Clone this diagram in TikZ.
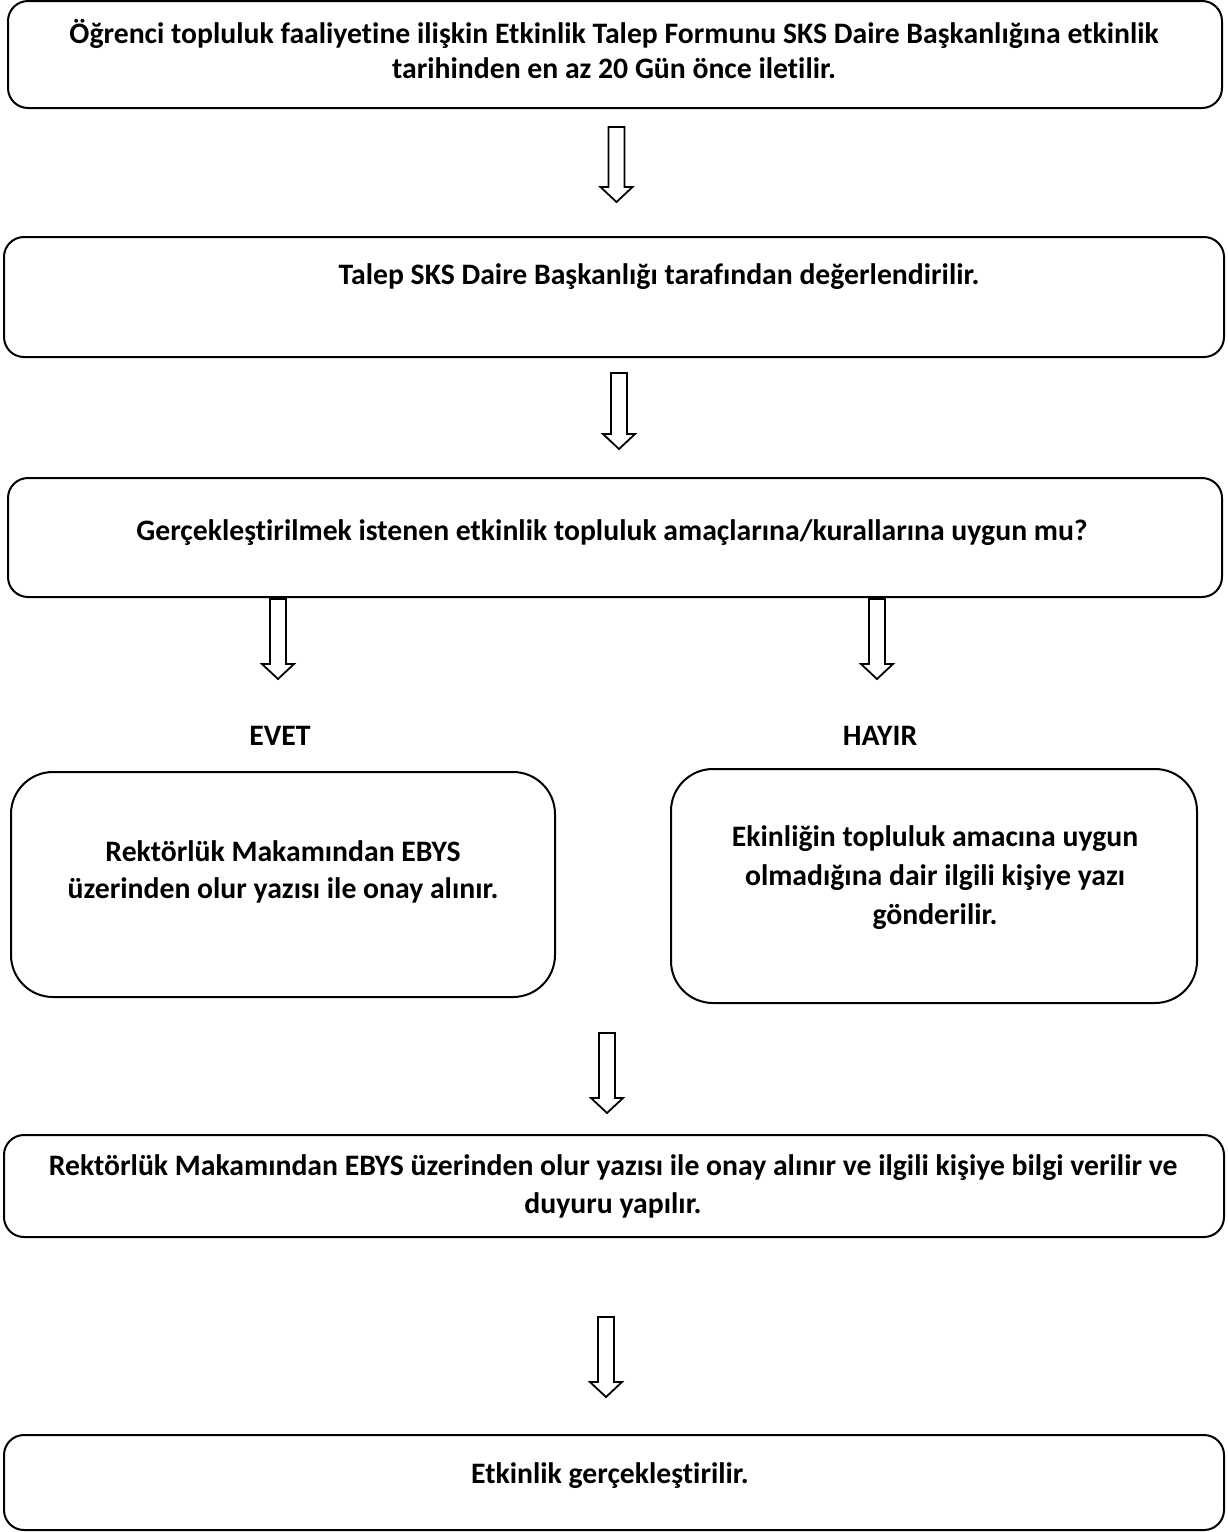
\documentclass[tikz,border=0pt]{standalone}
\usepackage{fontspec}
\setmainfont{Carlito}[Ligatures=NoCommon]
\tikzset{
  box/.style={draw, line width=2pt, rounded corners=20pt, inner sep=0pt},
  bigbox/.style={box, rounded corners=42pt},
  txt/.style={font=\fontsize{29.7}{36}\selectfont\bfseries, align=center, inner sep=0pt},
  arrowline/.style={draw, line width=1.8pt, line join=miter},
  pics/barrow/.style={code={\draw[arrowline] (-8,0) -- (8,0) -- (8,#1-15) -- (16,#1-15) -- (0,#1) -- (-16,#1-15) -- (-8,#1-15) -- cycle;}}
}
\begin{document}
\begin{tikzpicture}[x=1pt,y=-1pt]
\useasboundingbox (0,0) rectangle (1228,1532);
% boxes
\node[box, minimum width=1214pt, minimum height=107pt] (b1) at (615,54.5) {};
\node[box, minimum width=1220pt, minimum height=120pt] (b2) at (614,297) {};
\node[box, minimum width=1214pt, minimum height=119pt] (b3) at (615,537.5) {};
\node[bigbox, minimum width=544pt, minimum height=225pt] (b4) at (283,884.5) {};
\node[bigbox, minimum width=526pt, minimum height=234pt] (b5) at (934,886) {};
\node[box, minimum width=1220pt, minimum height=102pt] (b6) at (614,1186) {};
\node[box, minimum width=1220pt, minimum height=95pt] (b7) at (614,1482.5) {};
% texts
\node[txt, font=\fontsize{29.7}{35}\selectfont\bfseries] (t1) at (614,49) {Öğrenci topluluk faaliyetine ilişkin Etkinlik Talep Formunu SKS Daire Başkanlığına etkinlik\\tarihinden en az 20 Gün önce iletilir.};
\node[txt] (t2) at (659,277) {Talep SKS Daire Başkanlığı tarafından değerlendirilir.};
\node[txt] (t3) at (612,533) {Gerçekleştirilmek istenen etkinlik topluluk amaçlarına/kurallarına uygun mu?};
\node[txt] (evet) at (280,736) {EVET};
\node[txt] (hayir) at (880,736) {HAYIR};
\node[txt, font=\fontsize{29.7}{37}\selectfont\bfseries] (t4) at (283,872) {Rektörlük Makamından EBYS\\üzerinden olur yazısı ile onay alınır.};
\node[txt, font=\fontsize{29.7}{39}\selectfont\bfseries] (t5) at (935,878) {Ekinliğin topluluk amacına uygun\\olmadığına dair ilgili kişiye yazı\\gönderilir.};
\node[txt, font=\fontsize{29.7}{38}\selectfont\bfseries] (t6) at (613,1186.5) {Rektörlük Makamından EBYS üzerinden olur yazısı ile onay alınır ve ilgili kişiye bilgi verilir ve\\duyuru yapılır.};
\node[txt] (t7) at (610,1475.5) {Etkinlik gerçekleştirilir.};
% block arrows
\pic (a1) at (616.5,127) {barrow=75};
\pic (a2) at (619,373) {barrow=76};
\pic (a3) at (278,599) {barrow=80};
\pic (a4) at (877,599) {barrow=80};
\pic (a5) at (607,1033) {barrow=80};
\pic (a6) at (606,1317) {barrow=80};
\end{tikzpicture}
\end{document}
